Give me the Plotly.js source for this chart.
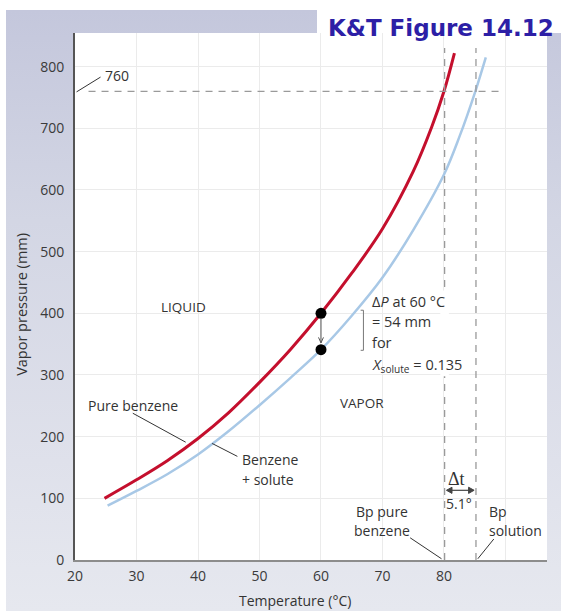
<!DOCTYPE html>
<html>
<head>
<meta charset="utf-8">
<script src="https://cdn.plot.ly/plotly-3.0.1.min.js"></script>
<style>
  html, body { margin: 0; padding: 0; background: #ffffff; }
  #wrap { position: relative; width: 561px; height: 611px; overflow: hidden; }
  #bg { position: absolute; left: 6px; top: 10px; right: 0; bottom: 0;
        background: linear-gradient(to bottom, #c4c7dc 0%, #d3d6e4 35%, #dfe1eb 75%, #e6e8ef 100%); }
  #chart { position: absolute; left: 0; top: 0; width: 561px; height: 611px; }
</style>
</head>
<body>
<div id="wrap"><div id="bg"></div><div id="chart"></div></div>
<script>
// ---- Data ----
const pureTemp   = [24.8, 30, 35, 40, 45, 50, 55, 60, 65, 70, 75, 78, 80, 81.7];
const purePress  = [100, 130, 161, 197, 239, 288, 341, 400, 465, 537, 630, 702, 760, 822];
const solnTemp   = [25.3, 30, 35, 40, 45, 50, 55, 60, 65, 70, 75, 80, 82.5, 85.1, 86.8];
const solnPress  = [88, 112, 139, 171, 209, 251, 295, 341, 396, 458, 535, 625, 686, 760, 815];
const dotTemp    = [60, 60];
const dotPress   = [400, 341];
const atmPress   = 760;
const bpPure     = 80.1;
const bpSolution = 85.2;
const xTickVals  = [20, 30, 40, 50, 60, 70, 80];
const xTickText  = ['20', '30', '40', '50', '60', '70', '80'];
const extraGridX = 90;

const FONT = 'Open Sans, Noto Sans, sans-serif';
const TXT = '#333333';

const traces = [
  { x: pureTemp, y: purePress, mode: 'lines', type: 'scatter',
    line: { color: '#c40f2d', width: 3, shape: 'spline', smoothing: 1 }, hoverinfo: 'skip' },
  { x: solnTemp, y: solnPress, mode: 'lines', type: 'scatter',
    line: { color: '#a8c8e6', width: 2.5, shape: 'spline', smoothing: 1 }, hoverinfo: 'skip' },
  { x: dotTemp, y: dotPress, mode: 'markers', type: 'scatter',
    marker: { color: '#000000', size: 11 }, hoverinfo: 'skip' }
];

const dashStyle = { color: '#9a9a9a', width: 1.3, dash: '7px,6px' };
const lead = { color: '#333333', width: 1 };

const shapes = [
  // white title box
  { type: 'rect', xref: 'paper', yref: 'paper', x0: 0.5127, x1: 1.04, y0: 1, y1: 1.07,
    fillcolor: '#ffffff', line: { width: 0 }, layer: 'below' },
  // grid line at 90 (no tick label there)
  { type: 'line', xref: 'x', yref: 'paper', x0: extraGridX, x1: extraGridX, y0: 0, y1: 1,
    line: { color: '#ebebeb', width: 1 }, layer: 'below' },
  // dashed reference lines
  { type: 'line', xref: 'x', yref: 'y', x0: 22.2, x1: 89.2, y0: atmPress, y1: atmPress, line: dashStyle },
  { type: 'line', xref: 'x', yref: 'y', x0: bpPure, x1: bpPure, y0: 0, y1: 830, line: dashStyle },
  { type: 'line', xref: 'x', yref: 'y', x0: bpSolution, x1: bpSolution, y0: 0, y1: 830, line: dashStyle },
  // white knock-out of the dashed line behind the delta-P text block
  { type: 'rect', xref: 'x', yref: 'y', x0: 79.4, x1: 80.8, y0: 298, y1: 437,
    fillcolor: '#ffffff', line: { width: 0 } },
  // leader lines
  { type: 'line', xref: 'x', yref: 'y', x0: 20.25, y0: 759, x1: 24.15, y1: 783, line: lead },
  { type: 'line', xref: 'x', yref: 'y', x0: 29.4, y0: 238, x1: 38.0, y1: 191, line: lead },
  { type: 'line', xref: 'x', yref: 'y', x0: 42.3, y0: 189, x1: 46.4, y1: 168, line: lead },
  { type: 'line', xref: 'x', yref: 'y', x0: 74.5, y0: 36, x1: 79.6, y1: 2, line: lead },
  { type: 'line', xref: 'x', yref: 'y', x0: 88.1, y0: 34, x1: 85.5, y1: 2, line: lead },
  // bracket
  { type: 'path', xref: 'x', yref: 'y', path: 'M 66.45,405 L 66.9,405 L 66.9,340 L 66.45,340',
    line: { color: '#777777', width: 1 } },
  // arrow between the dots
  { type: 'line', xref: 'x', yref: 'y', x0: dotTemp[0], x1: dotTemp[0], y0: 391, y1: 352,
    line: { color: '#555555', width: 1 } },
  { type: 'path', xref: 'x', yref: 'y', path: 'M 59.6,361 L 60,352 L 60.4,361',
    line: { color: '#555555', width: 1 } },
  // delta-t double arrow
  { type: 'line', xref: 'x', yref: 'y', x0: 80.5, x1: 84.8, y0: 113, y1: 113,
    line: { color: '#444444', width: 1.2 } },
  { type: 'path', xref: 'x', yref: 'y', path: 'M 81.3,118 L 80.4,113 L 81.3,108 Z',
    fillcolor: '#444444', line: { color: '#444444', width: 1 } },
  { type: 'path', xref: 'x', yref: 'y', path: 'M 84.0,118 L 84.9,113 L 84.0,108 Z',
    fillcolor: '#444444', line: { color: '#444444', width: 1 } }
];

function txt(x, y, text, opts) {
  return Object.assign({ xref: 'x', yref: 'y', x: x, y: y, text: text, showarrow: false,
    font: { family: FONT, size: 14, color: TXT }, xanchor: 'center', yanchor: 'middle' }, opts || {});
}
const blockFont = { family: FONT, size: 14.5, color: TXT };

const annotations = [
  // title
  { xref: 'paper', yref: 'paper', x: 1.019, y: 1.0095, xanchor: 'right', yanchor: 'middle',
    text: '<b>K&amp;T Figure 14.12</b>', showarrow: false,
    font: { family: 'DejaVu Sans, sans-serif', size: 23, color: '#2d1fa6' } },
  // axis titles
  { xref: 'paper', yref: 'paper', x: 0.466, y: -0.076, xanchor: 'center', yanchor: 'middle',
    text: 'Temperature (°C)', showarrow: false, font: { family: FONT, size: 14, color: TXT } },
  { xref: 'paper', yref: 'paper', x: -0.1123, y: 0.486, xanchor: 'center', yanchor: 'middle',
    text: 'Vapor pressure (mm)', textangle: -90, showarrow: false, font: { family: FONT, size: 14.5, color: TXT } },
  // labels
  txt(24.6, 786, '760', { xanchor: 'left' }),
  txt(37.7, 411, 'LIQUID', { font: { family: FONT, size: 13.5, color: TXT } }),
  txt(66.7, 254, 'VAPOR', { font: { family: FONT, size: 13.5, color: TXT } }),
  txt(29.4, 250, 'Pure benzene'),
  txt(46.9, 163, 'Benzene', { xanchor: 'left' }),
  txt(46.9, 131, '+ solute', { xanchor: 'left' }),
  txt(68.0, 419, 'Δ<i>P</i> at 60 °C', { xanchor: 'left', font: blockFont }),
  txt(68.0, 386, '= 54 mm', { xanchor: 'left', font: blockFont }),
  txt(68.0, 353, 'for', { xanchor: 'left', font: blockFont }),
  txt(68.0, 316, '<i>X</i><sub>solute</sub> = 0.135', { xanchor: 'left', font: blockFont }),
  txt(82.1, 132, 'Δt', { font: { family: 'Liberation Serif, serif', size: 18, color: TXT } }),
  txt(82.4, 91, '5.1°'),
  txt(70.0, 79, 'Bp pure'),
  txt(70.0, 48, 'benzene'),
  txt(87.0, 79, 'Bp', { xanchor: 'left' }),
  txt(87.0, 48, 'solution', { xanchor: 'left' })
];

const layout = {
  width: 561, height: 611,
  margin: { l: 75, r: 14, t: 33, b: 51 },
  paper_bgcolor: 'rgba(0,0,0,0)',
  plot_bgcolor: '#ffffff',
  showlegend: false,
  xaxis: {
    range: [20, 96.75], tickvals: xTickVals, ticktext: xTickText,
    showgrid: true, gridcolor: '#ebebeb', gridwidth: 1, zeroline: false,
    showline: true, linecolor: '#8c8c8c', linewidth: 2, ticks: '',
    ticklabelstandoff: 2,
    tickfont: { family: FONT, size: 14, color: '#3a3a3a' }
  },
  yaxis: {
    range: [0, 854.5], tick0: 0, dtick: 100,
    showgrid: true, gridcolor: '#ebebeb', gridwidth: 1, zeroline: false,
    showline: true, linecolor: '#555555', linewidth: 2, ticks: '',
    ticklabelstandoff: 6,
    tickfont: { family: FONT, size: 14, color: '#3a3a3a' }
  },
  shapes: shapes,
  annotations: annotations
};

Plotly.newPlot('chart', traces, layout, { staticPlot: true, displayModeBar: false });
</script>
</body>
</html>
